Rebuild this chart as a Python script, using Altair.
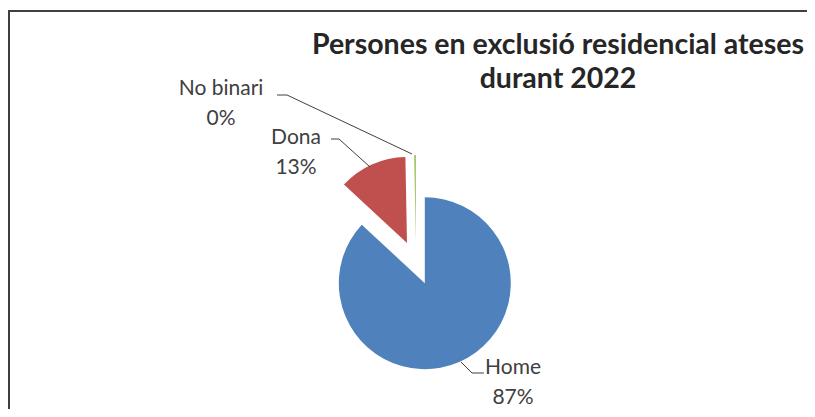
import altair as alt
import pandas as pd

# ---- data ----
categories = ["Home", "Dona", "No binari"]
shares = [86.9, 12.8, 0.3]
pct_labels = ["87%", "13%", "0%"]
title_lines = ["Persones en exclusió residencial ateses", "durant 2022"]

# ---- style / layout ----
colors = ["#4F81BD", "#C0504D", "#9BBB59"]
W, H = 799, 401
CX, CY = 408, 255
R = 86
EXPLODE = 22
FONT = "Lato"
label_pos = {"Home": (505, 360), "Dona": (288, 130), "No binari": (213, 81)}
leader_pts = {
    "No binari": [(269, 87), (279, 87), (404, 146)],
    "Dona": [(323, 131), (331, 131), (362, 159)],
    "Home": [(476, 365), (464, 365), (453, 354)],
}

slices = pd.DataFrame({"cat": categories, "value": shares,
                       "ord": list(range(len(categories)))})

pie = alt.Chart(slices).transform_joinaggregate(
    total="sum(value)"
).transform_window(
    cum="sum(value)", sort=[alt.SortField("ord")], frame=[None, 0]
).transform_calculate(
    t0="2*PI*(datum.cum-datum.value)/datum.total",
    t1="2*PI*datum.cum/datum.total",
    mid="(datum.t0+datum.t1)/2",
    cx=f"{CX}+{EXPLODE}*sin(datum.mid)",
    cy=f"{CY}-{EXPLODE}*cos(datum.mid)",
).mark_arc(outerRadius=R).encode(
    theta=alt.Theta("t0:Q", scale=None),
    theta2="t1:Q",
    x=alt.X("cx:Q", scale=None),
    y=alt.Y("cy:Q", scale=None),
    color=alt.Color("cat:N", scale=alt.Scale(domain=categories, range=colors), legend=None),
)

lab_df = pd.DataFrame({
    "txt": [f"{c}\n{p}" for c, p in zip(categories, pct_labels)],
    "lx": [label_pos[c][0] for c in categories],
    "ly": [label_pos[c][1] for c in categories],
})
labels = alt.Chart(lab_df).mark_text(
    font=FONT, fontSize=21, color="#404040", lineBreak="\n", lineHeight=30,
    align="center", baseline="middle"
).encode(x=alt.X("lx:Q", scale=None), y=alt.Y("ly:Q", scale=None), text="txt:N")

rows = []
for c, pts in leader_pts.items():
    for i, (px, py) in enumerate(pts):
        rows.append({"cat": c, "i": i, "px": px, "py": py})
lead_df = pd.DataFrame(rows)
leaders = alt.Chart(lead_df).mark_line(color="#404040", strokeWidth=1).encode(
    x=alt.X("px:Q", scale=None), y=alt.Y("py:Q", scale=None),
    detail="cat:N", order="i:Q"
)

title_df = pd.DataFrame({"t": ["\n".join(title_lines)]})
title = alt.Chart(title_df).mark_text(
    font=FONT, fontSize=28.5, fontWeight="bold", color="#262626",
    lineBreak="\n", lineHeight=34, align="center", baseline="middle"
).encode(x=alt.value(550), y=alt.value(37), text="t:N")

frame_style = dict(color="#404040", strokeWidth=2)
border_left = alt.Chart(pd.DataFrame({"a": [0]})).mark_rule(**frame_style).encode(
    x=alt.value(1), y=alt.value(2), y2=alt.value(H))
border_top = alt.Chart(pd.DataFrame({"a": [0]})).mark_rule(**frame_style).encode(
    x=alt.value(0), x2=alt.value(W), y=alt.value(3))

chart = alt.layer(border_left, border_top, pie, leaders, labels, title).properties(
    width=W, height=H, padding=0, autosize="none"
).configure_view(stroke=None)

chart.save("out.html", embed_options={"renderer": "svg", "actions": False})
